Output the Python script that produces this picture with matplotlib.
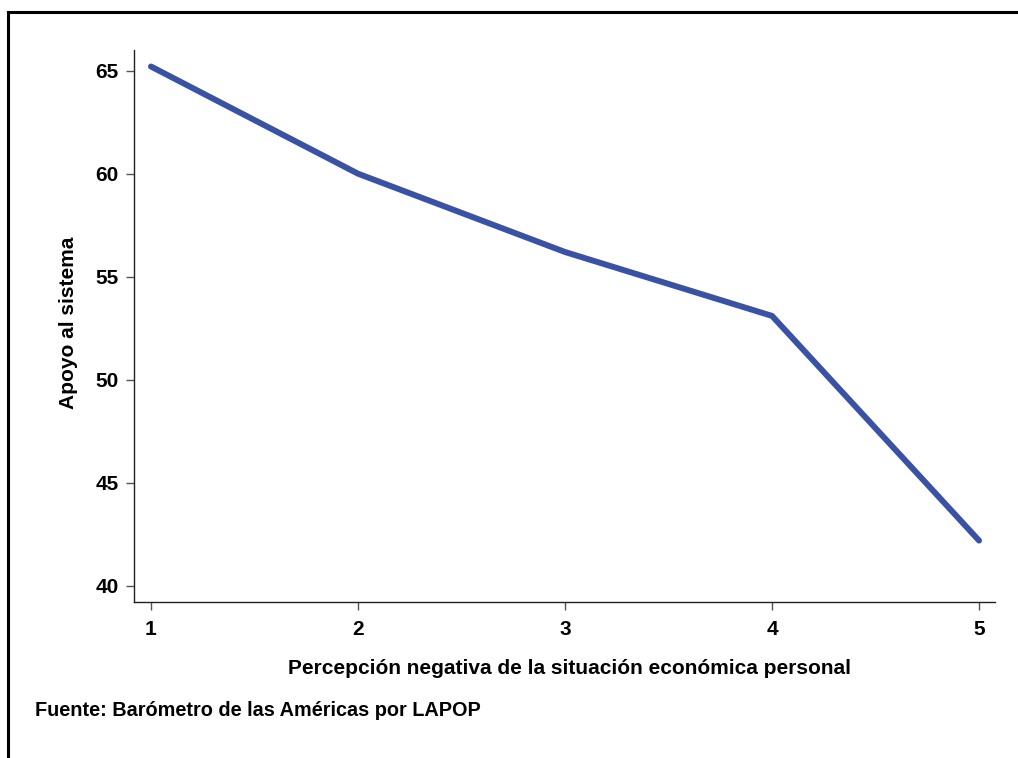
import matplotlib
matplotlib.use("Agg")
import matplotlib.pyplot as plt
from matplotlib.lines import Line2D

# data
categorias = [1, 2, 3, 4, 5]
apoyo = [65.2, 60.0, 56.2, 53.1, 42.2]
yticks = [40, 45, 50, 55, 60, 65]

LINE_COLOR = "#3a52a3"
plt.rcParams["font.family"] = ["Liberation Sans", "DejaVu Sans"]
plt.rcParams["font.weight"] = "bold"

W, H = 1018, 758
fig = plt.figure(figsize=(W / 100, H / 100), dpi=100)
ax = fig.add_axes([134 / W, 1 - 602 / H, (995 - 134) / W, (602 - 50) / H])

ax.plot(categorias, apoyo, color=LINE_COLOR, linewidth=4.3, solid_capstyle="round")

ax.set_xlim(0.918, 5.077)
ax.set_ylim(39.22, 66.0)
ax.set_xticks(categorias)
ax.set_yticks(yticks)
ax.tick_params(axis="both", labelsize=15, length=6, width=1, color="#555555", pad=5)
ax.tick_params(axis="x", pad=7)
for lab in ax.get_xticklabels() + ax.get_yticklabels():
    lab.set_fontweight("bold")

for side in ["top", "right"]:
    ax.spines[side].set_visible(False)
for side in ["left", "bottom"]:
    ax.spines[side].set_linewidth(1.0)
    ax.spines[side].set_color("#222222")

fig.text(570 / W, 1 - 668 / H, "Percepción negativa de la situación económica personal",
         ha="center", va="center", fontsize=15, fontweight="bold")
fig.text(68 / W, 1 - 323 / H, "Apoyo al sistema", rotation=90,
         ha="center", va="center", fontsize=15, fontweight="bold")
fig.text(35 / W, 1 - 710 / H, "Fuente: Barómetro de las Américas por LAPOP",
         ha="left", va="center", fontsize=14.3, fontweight="bold")

# outer frame: top and left edges only
fig.add_artist(Line2D([8 / W, 1.0], [1 - 12 / H, 1 - 12 / H], color="black", linewidth=2.2,
                      transform=fig.transFigure))
fig.add_artist(Line2D([8 / W, 8 / W], [1 - 12 / H, 0.0], color="black", linewidth=2.2,
                      transform=fig.transFigure))

fig.savefig("out.png", dpi=100)
